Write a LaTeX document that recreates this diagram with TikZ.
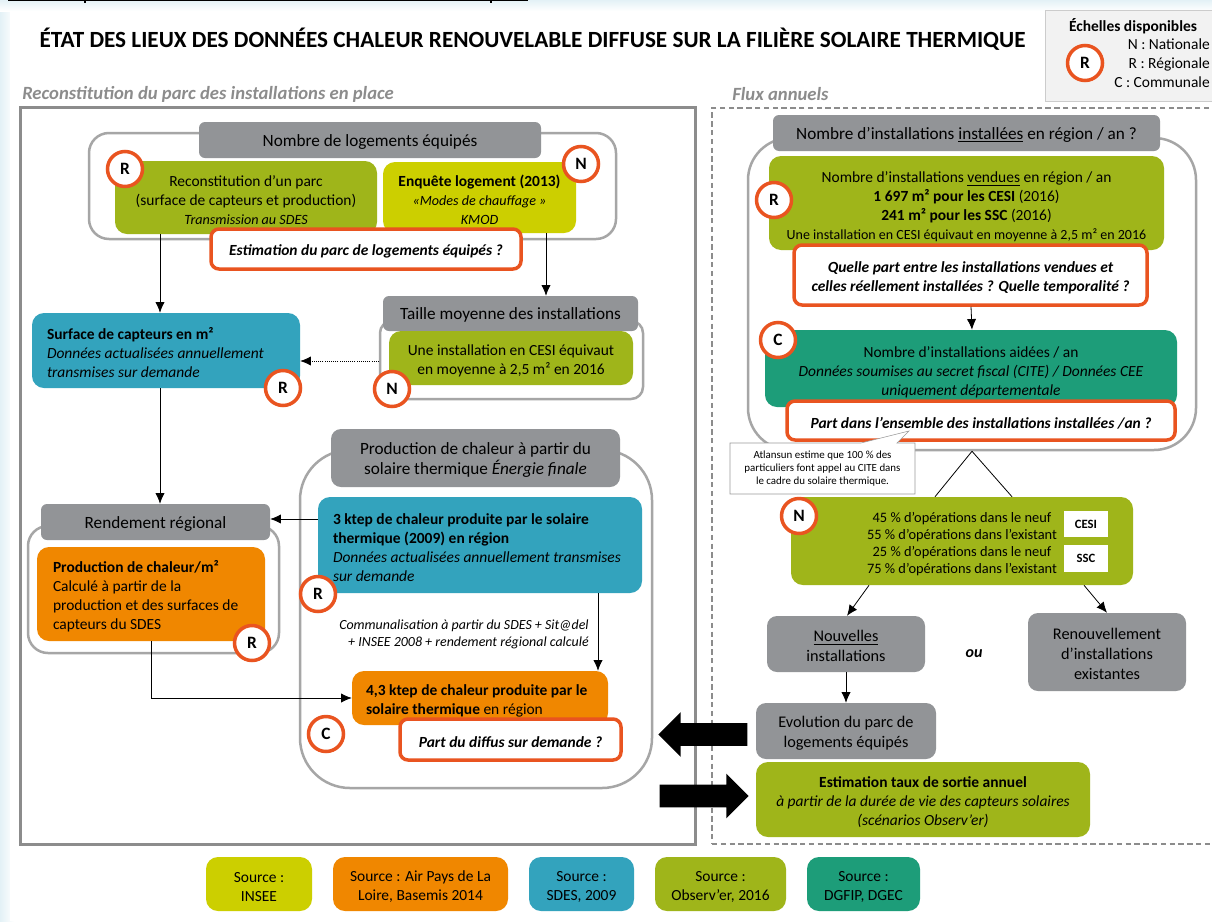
\documentclass[tikz,border=0pt]{standalone}
\usepackage{fontspec}
\setmainfont{Carlito}
\usetikzlibrary{arrows.meta,shapes.arrows,shapes.callouts}
\definecolor{obsgreen}{HTML}{9FB51A}
\definecolor{inseeyellow}{HTML}{CCCF00}
\definecolor{sdesblue}{HTML}{33A3BD}
\definecolor{airorange}{HTML}{F08700}
\definecolor{dgfipteal}{HTML}{1D9D79}
\definecolor{headgray}{HTML}{929497}
\definecolor{askred}{HTML}{E95420}
\definecolor{linegray}{HTML}{A6A6A6}
\definecolor{palesheet}{HTML}{E3F1F6}
\newcommand{\px}{0.75pt}
\begin{document}
\begin{tikzpicture}[
  x=0.75pt, y=-0.75pt,
  body/.style={font=\fontsize{11.6}{14.2}\selectfont},
  size/.style 2 args={minimum width=#1*\px, minimum height=#2*\px},
  block/.style 2 args={rectangle, rounded corners=12*\px, inner sep=0pt, align=flush center, body, size={#1}{#2}, text width=#1*\px, execute at begin node={\rule{0pt}{11.8pt}}},
  flushblock/.style={align=flush left, execute at begin node={\rule{0pt}{8.9pt}}},
  lowtext/.style={execute at begin node={\rule{0pt}{14pt}}},
  head/.style 2 args={block={#1}{#2}, fill=headgray, rounded corners=6*\px, font=\fontsize{12.9}{15.2}\selectfont},
  ghead/.style 2 args={block={#1}{#2}, fill=headgray, rounded corners=10*\px, font=\fontsize{12.2}{15}\selectfont},
  ask/.style 2 args={block={#1}{#2}, draw=askred, fill=white, line width=3.5*\px, rounded corners=8*\px, font=\fontsize{11.6}{14.2}\selectfont\bfseries\itshape},
  outline/.style={rectangle, draw=linegray, line width=2.5*\px, inner sep=0pt},
  scaletag/.style={circle, draw=askred, fill=white, line width=3.5*\px, minimum size=35*\px, inner sep=0pt, font=\fontsize{13}{15}\selectfont\bfseries},
  sectiontitle/.style={inner sep=0pt, anchor=west, text=black!45, font=\fontsize{14}{16}\selectfont\bfseries\itshape},
  link/.style={->, >={Latex[length=8pt,width=7pt]}, line width=0.6pt},
  bigarrow/.style={single arrow, fill=black, inner xsep=0pt, inner ysep=11*\px, minimum width=44*\px, minimum height=89*\px, single arrow head extend=11*\px}
]
\useasboundingbox (0,0) rectangle (1212,921);
\shade[left color=palesheet, right color=white] (0,0) rectangle (14,921);
\shade[top color=palesheet, bottom color=white] (0,0) rectangle (1212,11);
\fill[white] (10,11) rectangle (1212,921);
\draw[line width=1.6*\px] (8,0.5) -- (528,0.5) (85,0) -- (85,3) (491,0) -- (491,3);

\node[inner sep=0pt, font=\fontsize{17.4}{21}\selectfont\bfseries] (title) at (532.5,39) {ÉTAT DES LIEUX DES DONNÉES CHALEUR RENOUVELABLE DIFFUSE SUR LA FILIÈRE SOLAIRE THERMIQUE};
\node[rectangle, draw=black!20, fill=black!5, size={169}{91}] (legend) at (1129.5,55.5) {};
\node[inner sep=0pt, body, font=\fontsize{11.6}{14.2}\selectfont\bfseries] (legendtitle) at (1133,26) {Échelles disponibles};
\node[inner sep=0pt, body, align=right, anchor=east] (legendtext) at (1210,63) {N : Nationale\\R : Régionale\\C : Communale};
\node[scaletag] (legendtag) at (1085,63) {R};

\node[sectiontitle] (parctitle) at (22,94) {Reconstitution du parc des installations en place};
\node[sectiontitle] (fluxtitle) at (732,94) {Flux annuels};
\node[rectangle, draw=black!45, line width=3*\px, size={675}{737}] (parcframe) at (357.5,476) {};
\node[rectangle, draw=black!45, line width=2.4*\px, dash pattern=on 4pt off 2.6pt, size={501}{736}] (fluxframe) at (962.5,476) {};

\node[outline, rounded corners=20*\px, size={527}{106}] (logout) at (352.5,186) {};
\node[head={342}{36}] (loghead) at (370,140) {Nombre de logements équipés};
\node[block={262}{73}, fill=obsgreen] (parc) at (246,197.5) {Reconstitution d’un parc\\(surface de capteurs et production)\\{\fontsize{10.6}{14.2}\selectfont\itshape Transmission au SDES}};
\node[block={193}{71}, fill=inseeyellow] (enquete) at (479.5,197.5) {\textbf{Enquête logement (2013)}\\{\fontsize{10.6}{14.2}\selectfont\itshape «Modes de chauffage »}\\{\fontsize{10.6}{14.2}\selectfont\itshape KMOD}};
\node[ask={310}{40}] (estim) at (366,249) {Estimation du parc de logements équipés ?};
\node[scaletag] (tagparc) at (125,169) {R};
\node[scaletag] (tagenq) at (581,164) {N};

\node[block={268}{75}, fill=sdesblue, flushblock, text width=238*\px] (surface) at (166,350.5) {\textbf{Surface de capteurs en m²}\\\textit{Données actualisées annuellement}\\\textit{transmises sur demande}};
\node[scaletag] (tagsurf) at (283,388) {R};
\node[outline, rounded corners=12*\px, size={263}{78}] (tailout) at (511.5,360) {};
\node[head={255}{35}] (tailhead) at (510.5,313.5) {Taille moyenne des installations};
\node[block={244}{54}, fill=obsgreen] (taille) at (511,358) {Une installation en CESI équivaut\\en moyenne à 2,5 m² en 2016};
\node[scaletag] (tagtail) at (392,389) {N};

\node[outline, rounded corners=20*\px, size={251}{127}] (rendout) at (153.5,589.5) {};
\node[head={229}{36}] (rendhead) at (155.5,522) {Rendement régional};
\node[block={228}{94}, fill=airorange, flushblock, text width=196*\px] (prodm) at (151,594) {\textbf{Production de chaleur/m²}\\Calculé à partir de la\\production et des surfaces de\\capteurs du SDES};
\node[scaletag] (tagrend) at (252,643) {R};

\node[outline, rounded corners=50*\px, size={352}{338}] (prodout) at (476,619) {};
\node[head={289}{58}, rounded corners=10*\px] (prodhead) at (475.5,458) {Production de chaleur à partir du\\solaire thermique \textit{Énergie finale}};
\node[block={324}{96}, fill=sdesblue, flushblock, text width=294*\px] (ktep) at (480,545) {\textbf{3 ktep de chaleur produite par le solaire}\\\textbf{thermique (2009) en région}\\\textit{Données actualisées annuellement transmises}\\\textit{sur demande}};
\node[scaletag] (tagktep) at (318,594) {R};
\node[inner sep=0pt, align=right, anchor=east, font=\fontsize{10.45}{12.8}\selectfont\itshape] (communal) at (589,634) {Communalisation à partir du SDES + Sit@del\\+ INSEE 2008 + rendement régional calculé};
\node[block={256}{54}, fill=airorange, flushblock, text width=228*\px] (ktepc) at (480,698) {\mbox{\textbf{4,3 ktep de chaleur produite par le}}\\\textbf{solaire thermique} en région};
\node[ask={221}{41}] (partdiff) at (510.5,739.5) {Part du diffus sur demande ?};
\node[scaletag] (tagc) at (326,734) {C};

\draw[link] (parc.south -| 160,0) -- (surface.north -| 160,0);
\draw[link] (enquete.south -| 546,0) -- (tailhead.north -| 546,0);
\draw[link, densely dotted] (tailout.west |- 0,361) -- (surface.east |- 0,361);
\draw[link] (surface.south -| 160,0) -- (rendhead.north -| 160,0);
\draw[link] (ktep.west |- 0,519) -- (rendhead.east |- 0,519);
\draw[link] (ktep.south -| 598,0) -- (ktepc.north -| 598,0);
\draw[link] (prodm.south -| 151,0) |- (ktepc.west);

\node[outline, rounded corners=42*\px, size={448}{312}] (nbout) at (972,294) {};
\node[head={387}{36}] (nbhead) at (966.5,133) {Nombre d’installations \underline{installées} en région / an ?};
\node[block={395}{94}, fill=obsgreen, lowtext] (vendues) at (966.5,203) {Nombre d’installations \underline{vendues} en région / an\\\textbf{1 697 m² pour les CESI} (2016)\\\textbf{241 m² pour les SSC} (2016)\\{\fontsize{10.5}{14.2}\selectfont Une installation en CESI équivaut en moyenne à 2,5 m² en 2016}};
\node[scaletag] (tagvend) at (774,200) {R};
\node[ask={353}{60}] (partvend) at (970.5,275) {Quelle part entre les installations vendues et\\celles réellement installées ? Quelle temporalité ?};
\node[block={412}{77}, fill=dgfipteal, lowtext] (aidees) at (971,368.5) {Nombre d’installations aidées / an\\\textit{Données soumises au secret fiscal (CITE) / Données CEE}\\\textit{uniquement départementale}};
\node[scaletag] (tagaid) at (778,340) {C};
\node[ask={388}{39}] (partens) at (981,420.5) {Part dans l’ensemble des installations installées /an ?};
\node[rectangle callout, callout absolute pointer={(909,431)}, callout pointer width=36*\px, draw=black!40, fill=white, size={185}{51}, inner sep=0pt, align=center, font=\fontsize{8.2}{9.9}\selectfont] (atlan) at (822.5,468.5) {Atlansun estime que 100 \% des\\particuliers font appel au CITE dans\\le cadre du solaire thermique.};

\node[block={342}{88}, fill=obsgreen, font=\fontsize{10.8}{12.8}\selectfont] (neuf) at (962,541) {45 \% d’opérations dans le neuf\\55 \% d’opérations dans l’existant\\25 \% d’opérations dans le neuf\\75 \% d’opérations dans l’existant};
\node[fill=white, size={44}{26}, inner sep=0pt, font=\fontsize{9.5}{11}\selectfont\bfseries] (cesi) at (1086,524) {CESI};
\node[fill=white, size={44}{27}, inner sep=0pt, font=\fontsize{9.5}{11}\selectfont\bfseries] (ssc) at (1086,558.5) {SSC};
\node[scaletag] (tagneuf) at (799,516) {N};
\node[ghead={158}{56}] (nouv) at (846,644) {\underline{Nouvelles}\\installations};
\node[ghead={158}{78}] (renouv) at (1107,652) {Renouvellement\\d’installations\\existantes};
\node[inner sep=0pt, font=\fontsize{12}{14}\selectfont\bfseries\itshape] (ou) at (974,654) {ou};
\node[ghead={180}{56}] (evol) at (846,731) {Evolution du parc de\\logements équipés};
\node[block={334}{75}, fill=obsgreen] (taux) at (923,799.5) {\textbf{Estimation taux de sortie annuel}\\\textit{à partir de la durée de vie des capteurs solaires}\\\textit{(scénarios Observ’er)}};
\node[bigarrow, shape border rotate=180] (arrowout) at (708.5,734.5) {};
\node[bigarrow] (arrowin) at (698.5,796) {};

\draw[link] (partvend.south -| 971,0) -- (aidees.north -| 972,0);
\draw[line width=0.6pt] (nbout.south -| 972,0) -- (neuf.north -| 935,0);
\draw[line width=0.6pt] (nbout.south -| 972,0) -- (neuf.north -| 1012,0);
\draw[link] (neuf.south -| 869,0) -- (nouv.north -| 847,0);
\draw[link] (neuf.south -| 1084,0) -- (renouv.north -| 1107,0);
\draw[link] (nouv) -- (evol);

\node[block={106}{54}, fill=inseeyellow] (srcinsee) at (259,884) {Source :\\INSEE};
\node[block={175}{54}, fill=airorange, right of=srcinsee, node distance=161.5*\px] (srcair) {Source : Air Pays de La\\Loire, Basemis 2014};
\node[block={105}{54}, fill=sdesblue, right of=srcair, node distance=161*\px] (srcsdes) {Source :\\SDES, 2009};
\node[block={131}{54}, fill=obsgreen, right of=srcsdes, node distance=139*\px] (srcobs) {Source :\\Observ’er, 2016};
\node[block={113}{54}, fill=dgfipteal, right of=srcobs, node distance=143*\px] (srcdgfip) {Source :\\DGFIP, DGEC};
\end{tikzpicture}
\end{document}
